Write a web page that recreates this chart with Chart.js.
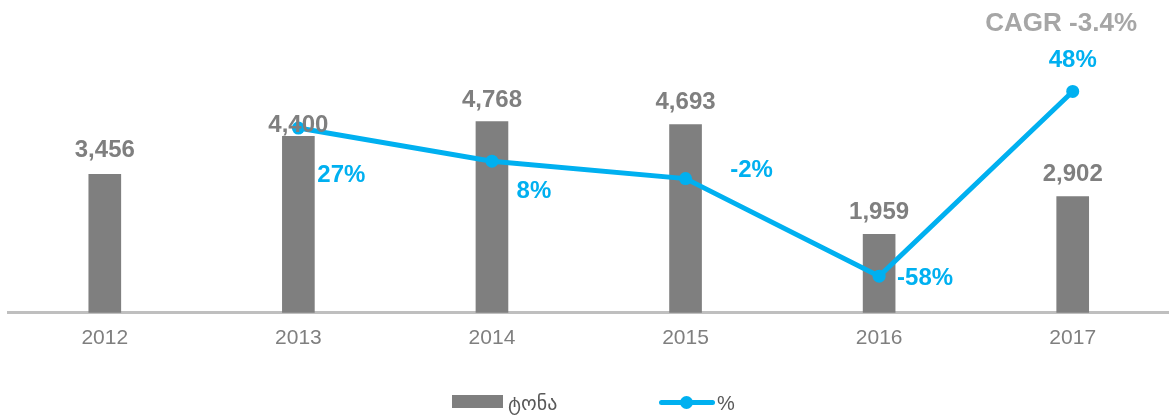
<!DOCTYPE html>
<html>
<head>
<meta charset="utf-8">
<script src="https://cdn.jsdelivr.net/npm/chart.js@4.4.1/dist/chart.umd.min.js"></script>
<style>
  html, body { margin: 0; padding: 0; background: #fff; overflow: hidden; }
  #wrap { position: relative; width: 1176px; height: 418px; overflow: hidden; font-family: "Liberation Sans", Arial, "DejaVu Sans", sans-serif; }
  #myChart { position: absolute; left: 0; top: 0; }
  .abs { position: absolute; white-space: nowrap; }
  #cagr { right: 39px; top: 7px; font-size: 26px; font-weight: bold; color: #a6a6a6; line-height: 30px; }
  .swatch-bar { left: 452px; top: 395px; width: 51px; height: 13px; background: #7f7f7f; }
  .swatch-line { left: 659px; top: 400px; width: 56px; height: 5px; border-radius: 3px; background: #00b0f0; }
  .swatch-dot { left: 680px; top: 396px; width: 13px; height: 13px; border-radius: 50%; background: #00b0f0; }
  .leg-text { font-size: 20px; color: #595959; line-height: 24px; top: 391px; font-family: "DejaVu Sans", "Liberation Sans", sans-serif; }
</style>
</head>
<body>
<div id="wrap">
  <canvas id="myChart" width="1176" height="418" style="width:1176px;height:418px"></canvas>
  <div id="cagr" class="abs"></div>
  <div class="abs swatch-bar"></div>
  <div id="legBar" class="abs leg-text" style="left:508px"></div>
  <div class="abs swatch-line"></div>
  <div class="abs swatch-dot"></div>
  <div id="legPct" class="abs leg-text" style="left:717px; font-family:'Liberation Sans', Arial, sans-serif;"></div>
</div>
<script>
// chart values
const years = ["2012", "2013", "2014", "2015", "2016", "2017"];
const tonnes = [3456, 4400, 4768, 4693, 1959, 2902];
const growthPct = [null, 27, 8, -2, -58, 48];
const barLabel = "ტონა";
const lineLabel = "%";
const cagrText = "CAGR -3.4%";

// where the value labels sit relative to their mark (x, y in px)
const tonneLabelOffsets = [[0, -24], [0, -11], [0, -21], [0, -22], [0, -22], [0, -22]];
const pctLabelOffsets = [null, [43, 47], [42, 30], [66, -8], [46, 2], [0, -31]];

document.getElementById("cagr").textContent = cagrText;
document.getElementById("legBar").textContent = barLabel;
document.getElementById("legPct").textContent = lineLabel;

const ctx = document.getElementById("myChart");

//Draw value labels on top of the marks
const valueLabels = {
  id: "valueLabels",
  afterDatasetsDraw(chart) {
    const c = chart.ctx;
    c.save();
    c.textAlign = "center";
    c.textBaseline = "middle";
    c.font = "bold 24px 'Liberation Sans', Arial, sans-serif";

    const lineMeta = chart.getDatasetMeta(1);
    c.fillStyle = "#00b0f0";
    lineMeta.data.forEach((pt, i) => {
      const off = pctLabelOffsets[i];
      if (growthPct[i] === null || !off) return;
      c.fillText(growthPct[i] + "%", pt.x + off[0], pt.y + off[1]);
    });

    const barMeta = chart.getDatasetMeta(0);
    c.fillStyle = "#7f7f7f";
    barMeta.data.forEach((bar, i) => {
      const off = tonneLabelOffsets[i];
      c.fillText(tonnes[i].toLocaleString("en-US"), bar.x + off[0], bar.y + off[1]);
    });
    c.restore();
  },
};

new Chart(ctx, {
  type: "bar",
  data: {
    labels: years,
    datasets: [
      {
        label: barLabel,
        data: tonnes,
        backgroundColor: "#7f7f7f",
        barThickness: 32,
        yAxisID: "y",
        order: 1,
      },
      {
        type: "line",
        label: lineLabel,
        data: growthPct,
        borderColor: "#00b0f0",
        backgroundColor: "#00b0f0",
        borderWidth: 5,
        pointRadius: 6.5,
        pointBorderWidth: 0,
        pointBackgroundColor: "#00b0f0",
        tension: 0,
        yAxisID: "y1",
        order: 0,
      },
    ],
  },
  options: {
    responsive: false,
    animation: false,
    layout: {
      padding: { left: 8, right: 0, top: 13, bottom: 54 },
    },
    plugins: {
      legend: { display: false },
      tooltip: { enabled: false },
    },
    scales: {
      x: {
        grid: { display: false, drawTicks: false },
        border: { display: true, color: "#bfbfbf", width: 3 },
        ticks: {
          color: "#7f7f7f",
          padding: 13,
          font: { family: "'Liberation Sans', Arial, sans-serif", size: 21 },
        },
      },
      y: {
        display: false,
        min: 0,
        max: 7480,
      },
      y1: {
        display: false,
        position: "right",
        min: -79,
        max: 93,
      },
    },
  },
  plugins: [valueLabels],
});
</script>
</body>
</html>
